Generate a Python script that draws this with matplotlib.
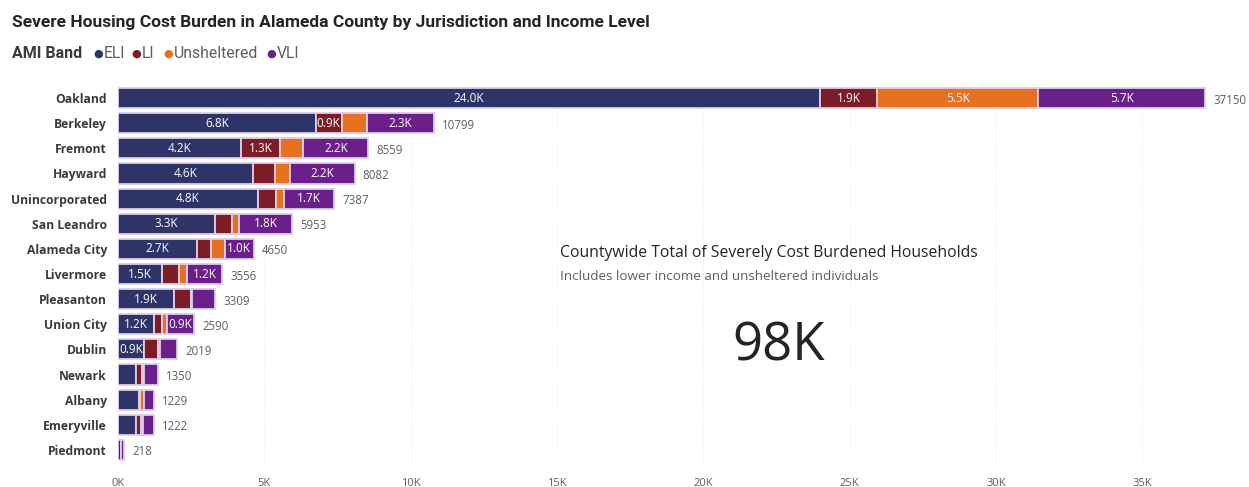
import matplotlib.pyplot as plt
import numpy as np

# Households with severe housing cost burden, by jurisdiction and AMI band
places = ["Oakland", "Berkeley", "Fremont", "Hayward", "Unincorporated",
          "San Leandro", "Alameda City", "Livermore", "Pleasanton",
          "Union City", "Dublin", "Newark", "Albany", "Emeryville", "Piedmont"]
eli = [24000, 6750, 4200, 4620, 4780, 3300, 2700, 1500, 1900, 1220, 880, 620, 720, 600, 110]
li = [1940, 900, 1330, 740, 620, 580, 470, 590, 600, 270, 480, 200, 40, 180, 0]
unsheltered = [5510, 849, 800, 520, 280, 270, 470, 270, 30, 170, 60, 70, 140, 80, 0]
vli = [5700, 2300, 2229, 2202, 1707, 1803, 1010, 1196, 779, 930, 599, 460, 329, 362, 108]

bands = ["ELI", "LI", "Unsheltered", "VLI"]
colors = ["#2e3468", "#7b1c27", "#e8711f", "#6a1f8a"]
edge = "#dccfe8"

county_total = sum(eli) + sum(li) + sum(unsheltered) + sum(vli)

W, H = 1249, 487
fig = plt.figure(figsize=(W / 100, H / 100), dpi=100)
fig.patch.set_facecolor("white")

ax = fig.add_axes([118 / W, 1 - 465 / H, 1112 / W, (465 - 83) / H])
y = np.arange(len(places))
left = np.zeros(len(places))
for vals, col in zip([eli, li, unsheltered, vli], colors):
    vals = np.array(vals, dtype=float)
    ax.barh(y, vals, left=left, height=0.8, color=col, edgecolor=edge,
            linewidth=1.3, zorder=3)
    for yi, (l, v) in enumerate(zip(left, vals)):
        if v >= 850:
            ax.text(l + v / 2, yi, f"{v / 1000:.1f}K", ha="center", va="center",
                    color="white", fontsize=8.5, family="Open Sans", zorder=4)
    left += vals

for yi, tot in enumerate(left):
    ax.text(tot + 280, yi + 0.08, f"{int(round(tot))}", ha="left", va="center",
            color="#605e5c", fontsize=8.3, family="Open Sans")

ax.set_xlim(0, 38000)
ax.set_ylim(len(places) - 0.4, -0.6)
ax.set_yticks(y)
ax.set_yticklabels(places, fontsize=8.7, fontweight="bold", color="#3b3a39",
                   family="Open Sans")
ticks = np.arange(0, 36000, 5000)
ax.set_xticks(ticks)
ax.set_xticklabels([f"{t // 1000}K" for t in ticks], fontsize=8,
                   color="#605e5c", family="Open Sans")
ax.tick_params(axis="both", length=0)
ax.tick_params(axis="x", pad=9)
ax.tick_params(axis="y", pad=8)
for s in ax.spines.values():
    s.set_visible(False)
ax.grid(axis="x", color="#e6e6e6", linestyle=(0, (1, 3)), linewidth=0.8, zorder=0)
ax.set_axisbelow(True)

# title and legend
fig.text(12 / W, 1 - 22 / H, "Severe Housing Cost Burden in Alameda County by Jurisdiction and Income Level",
         ha="left", va="center", fontsize=12.5, fontweight="bold", color="#252423",
         family="Roboto")
fig.text(12 / W, 1 - 54 / H, "AMI Band", ha="left", va="center", fontsize=11.5,
         fontweight="bold", color="#3b3a39", family="Roboto")
dot_x = [98, 136, 168, 271]
for dx, lab, col in zip(dot_x, bands, colors):
    fig.text(dx / W, 1 - 54 / H, "●", ha="center", va="center", fontsize=8,
             color=col, family="DejaVu Sans")
    fig.text((dx + 6) / W, 1 - 54 / H, lab, ha="left", va="center",
             fontsize=11.3, color="#605e5c", family="Roboto")

# countywide card
fig.text(560 / W, 1 - 253 / H, "Countywide Total of Severely Cost Burdened Households",
         ha="left", va="center", fontsize=11.3, color="#252423", family="Open Sans")
fig.text(560 / W, 1 - 277 / H, "Includes lower income and unsheltered individuals",
         ha="left", va="center", fontsize=9.7, color="#605e5c", family="Open Sans")
fig.text(779 / W, 1 - 347 / H, f"{county_total / 1000:.0f}K", ha="center", va="center",
         fontsize=38, color="#252423", family="Open Sans")

fig.savefig("out.png", dpi=100, facecolor="white")
